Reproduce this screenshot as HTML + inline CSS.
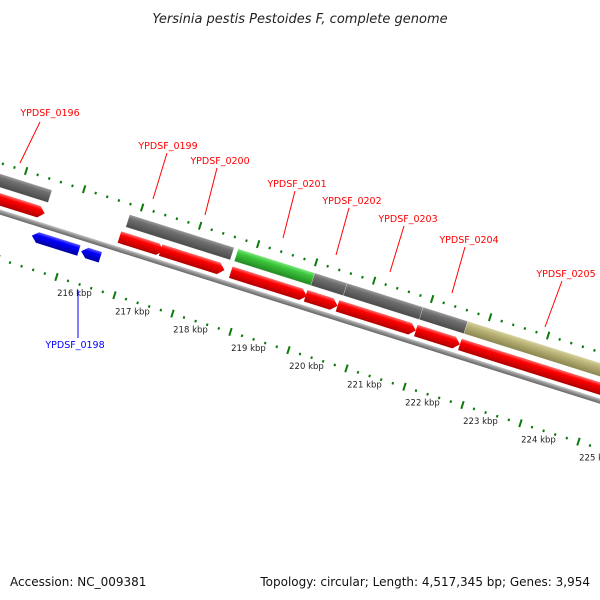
<!DOCTYPE html>
<html><head><meta charset="utf-8"><style>
html,body{margin:0;padding:0;background:#fff;}
svg{display:block;font-family:"DejaVu Sans","Liberation Sans",sans-serif;}
</style></head><body>
<svg id="chart" width="600" height="600" viewBox="0 0 600 600">
<defs>
<linearGradient id="gGray" x1="0" y1="0" x2="0" y2="1"><stop offset="0" stop-color="#9a9a9a"/><stop offset="0.3" stop-color="#6e6e6e"/><stop offset="1" stop-color="#4a4a4a"/></linearGradient>
<linearGradient id="gRed" x1="0" y1="0" x2="0" y2="1"><stop offset="0" stop-color="#ff7070"/><stop offset="0.3" stop-color="#ff0000"/><stop offset="1" stop-color="#b00000"/></linearGradient>
<linearGradient id="gBlue" x1="0" y1="0" x2="0" y2="1"><stop offset="0" stop-color="#6060ff"/><stop offset="0.3" stop-color="#0000ff"/><stop offset="1" stop-color="#0000a0"/></linearGradient>
<linearGradient id="gGreen" x1="0" y1="0" x2="0" y2="1"><stop offset="0" stop-color="#80e880"/><stop offset="0.3" stop-color="#3cc83c"/><stop offset="1" stop-color="#228822"/></linearGradient>
<linearGradient id="gKhaki" x1="0" y1="0" x2="0" y2="1"><stop offset="0" stop-color="#d8d4a0"/><stop offset="0.3" stop-color="#bcb67a"/><stop offset="1" stop-color="#8a8550"/></linearGradient>
<linearGradient id="gBack" x1="0" y1="0" x2="0" y2="1"><stop offset="0" stop-color="#c8c8c8"/><stop offset="0.5" stop-color="#8c8c8c"/><stop offset="1" stop-color="#666"/></linearGradient>
</defs>
<text x="300" y="23" text-anchor="middle" font-size="13" font-style="italic" fill="#222">Yersinia pestis Pestoides F, complete genome</text>
<g id="track" transform="translate(0,212) rotate(17.5)"></g>
<g id="labels"></g>
<text x="10" y="586" font-size="12" fill="#111">Accession: NC_009381</text>
<text x="590" y="586" text-anchor="end" font-size="12" fill="#111">Topology: circular; Length: 4,517,345 bp; Genes: 3,954</text>
</svg>
<script>
// data (kbp)
const tickKbp = [213,214,215,216,217,218,219,220,221,222,223,224,225,226];
const tickLabels = ["213 kbp","214 kbp","215 kbp","216 kbp","217 kbp","218 kbp","219 kbp","220 kbp","221 kbp","222 kbp","223 kbp","224 kbp","225 kbp","226 kbp"];
const grayStart = [213.0, 216.84, 220.03, 220.59, 221.9];
const grayEnd   = [215.5, 218.64, 220.59, 221.9, 222.67];
const greenStart = [218.71];
const greenEnd   = [220.03];
const khakiStart = [222.67];
const khakiEnd   = [226.5];
const redStart = [213.0, 216.79, 217.5, 218.71, 220.0, 220.55, 221.9, 222.66];
const redEnd   = [215.5, 217.55, 218.6, 220.02, 220.55, 221.9, 222.66, 226.5];
const blueStart = [215.41, 216.26];
const blueEnd   = [216.22, 216.59];
const geneNames = ["YPDSF_0196","YPDSF_0199","YPDSF_0200","YPDSF_0201","YPDSF_0202","YPDSF_0203","YPDSF_0204","YPDSF_0205","YPDSF_0198"];

const NS="http://www.w3.org/2000/svg";
const track=document.getElementById('track');
const COS=Math.cos(17.5*Math.PI/180), SIN=Math.sin(17.5*Math.PI/180);
const PX=58/COS, U0=70/COS;
function xs(k){return U0+(k-216)*PX;}
function toScreen(u,v){return [u*COS - v*SIN, 212 + u*SIN + v*COS];}
function mk(tag,attrs,parent){const e=document.createElementNS(NS,tag);for(const k in attrs)e.setAttribute(k,attrs[k]);(parent||track).appendChild(e);return e;}

// backbone
let bb=mk('rect',{x:-50,y:-2.5,width:800,height:5,fill:'url(#gBack)'});



// tick rows
function tickRow(v,name){
  for(let i=0;i<tickKbp.length;i++){
    for(let j=0;j<5;j++){
      const k=tickKbp[i]+j*0.2;
      const u=xs(k);
      let r;
      if(j===0){ r=mk('rect',{x:u-1,y:v-4,width:2,height:8,fill:'#0a7a0a'});  }
      else { r=mk('rect',{x:u-1,y:v-1,width:2,height:2.5,fill:'#0a7a0a'});  }
      
    }
  }
}
tickRow(-47,'upper');
tickRow(45,'lower');

// tick labels (horizontal text, positioned near lower tick)
const lab=document.getElementById('labels');
for(let i=0;i<tickKbp.length;i++){
  const p=toScreen(xs(tickKbp[i]),45);
  if(p[0]<0||p[0]>600) continue;
  const t=mk('text',{x:p[0]+18,y:p[1]+19,'text-anchor':'middle','font-size':'8.5',fill:'#222'},lab);
  t.textContent=tickLabels[i];
  
  
}

function box(s,e,v,h,fill,name){
  const r=mk('rect',{x:xs(s),y:v-h/2,width:xs(e)-xs(s),height:h,fill:fill,stroke:'rgba(255,255,255,0.5)','stroke-width':0.5});
  
  
}
function arrow(s,e,v,h,fill,dir,name){
  const a=xs(s),b=xs(e),t=Math.min(6,(b-a)/2),y0=v-h/2,y1=v+h/2;
  let pts;
  if(dir>0) pts=`${a},${y0} ${b-t},${y0} ${b},${v} ${b-t},${y1} ${a},${y1}`;
  else pts=`${a},${v} ${a+t},${y0} ${b},${y0} ${b},${y1} ${a+t},${y1}`;
  const p=mk('polygon',{points:pts,fill:fill});
  
  
}
for(let i=0;i<grayStart.length;i++) box(grayStart[i],grayEnd[i],-30,13,'url(#gGray)','gene-gray');
for(let i=0;i<greenStart.length;i++) box(greenStart[i],greenEnd[i],-30,13,'url(#gGreen)','gene-green');
for(let i=0;i<khakiStart.length;i++) box(khakiStart[i],khakiEnd[i],-30,13,'url(#gKhaki)','gene-khaki');
for(let i=0;i<redStart.length;i++) arrow(redStart[i],redEnd[i],-12,12,'url(#gRed)',1,'cds-forward');
for(let i=0;i<blueStart.length;i++) arrow(blueStart[i],blueEnd[i],13,11,'url(#gBlue)',-1,'cds-reverse');

// gene labels: [textX,textY,lineX1,lineY1,lineX2,lineY2,color]
const labelPos=[[50,116,20,163,40,122,'red'],[168,149,153,199,167,153,'red'],[220,164,205,215,217,168,'red'],[297,187,283,238,295,191,'red'],[352,204,336,255,349,208,'red'],[408,222,390,272,404,226,'red'],[469,243,452,293,465,247,'red'],[566,277,545,327,562,281,'red'],[75,348,78,290,78,338,'blue']];
for(let i=0;i<geneNames.length;i++){
  const L=labelPos[i];
  const c=L[6]==='red'?'#ff0000':'#0000ff';
  const ln=mk('line',{x1:L[2],y1:L[3],x2:L[4],y2:L[5],stroke:c,'stroke-width':1},lab);
  
  
  const t=mk('text',{x:L[0],y:L[1],'text-anchor':'middle','font-size':'9.5',fill:c},lab);
  t.textContent=geneNames[i];
  
  
}
</script>
</body></html>
